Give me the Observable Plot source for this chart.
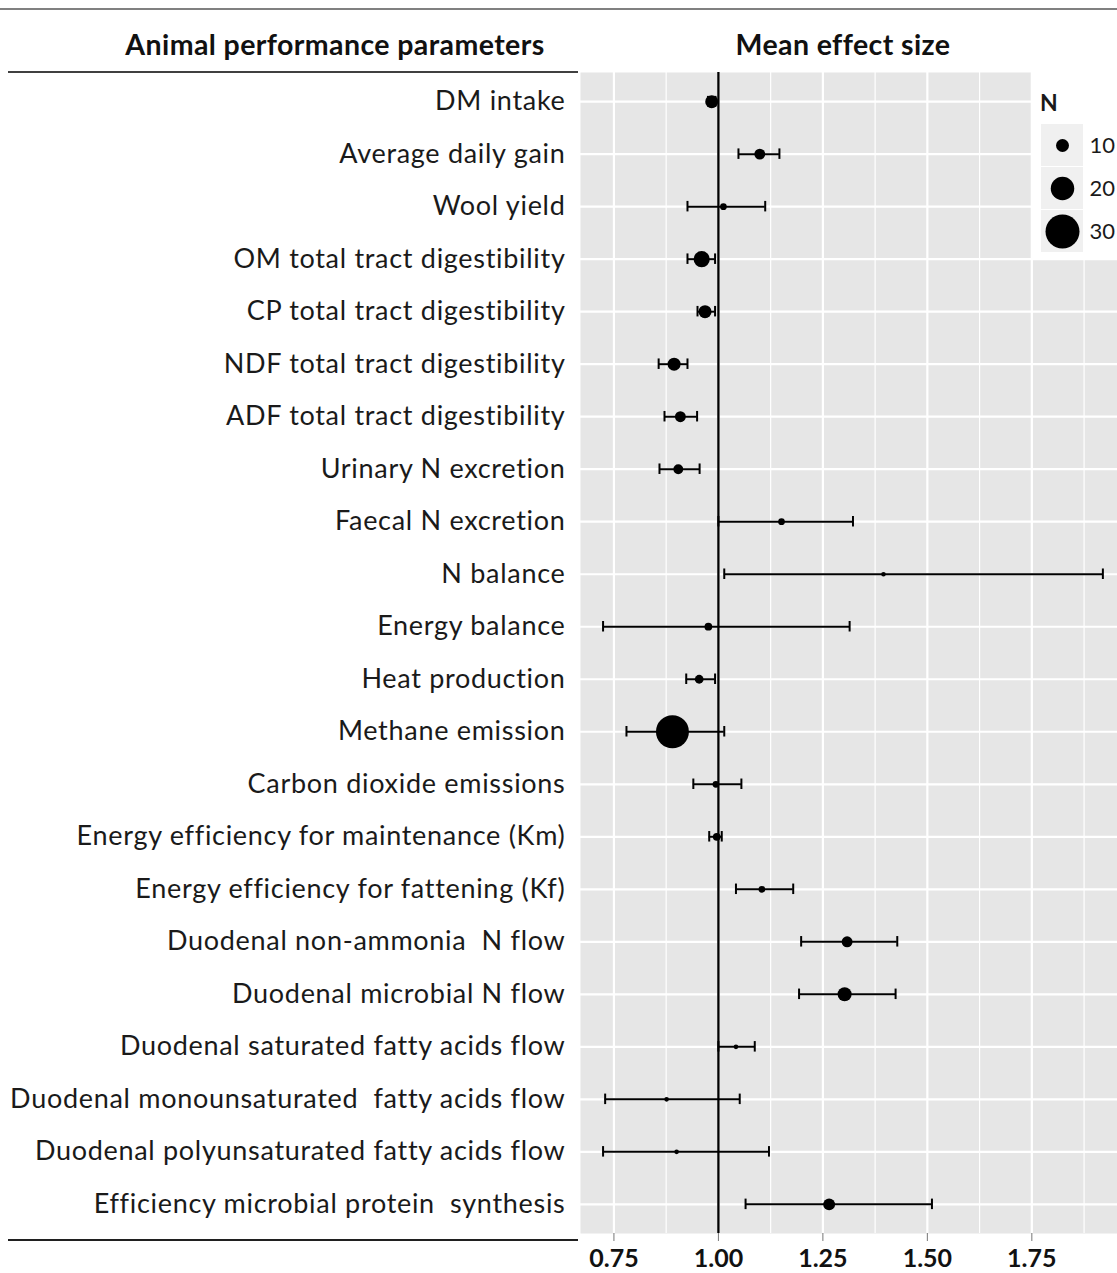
<!DOCTYPE html>
<html>
<head>
<meta charset="utf-8">
<script src="https://cdn.jsdelivr.net/npm/d3@7"></script>
<script src="https://cdn.jsdelivr.net/npm/@observablehq/plot@0.6"></script>
<style>
  html, body { margin: 0; padding: 0; background: #fff; }
  #page { position: relative; width: 1117px; height: 1273px; overflow: hidden; font-family: Lato, "Open Sans", sans-serif; color: #111; }
  .hline { position: absolute; }
  .hdr { position: absolute; top: 25px; font-weight: bold; font-size: 28.5px; letter-spacing: 0.4px; text-align: center; line-height: 38px; color: #111; }
  #chart { position: absolute; left: 0; top: 70px; }
  #chart svg text { white-space: pre; }
  #chart svg g[aria-label="y-axis tick label"] text { letter-spacing: 0.7px; }
  #legend { position: absolute; left: 1032px; top: 70px; width: 85px; height: 190px; background: #fff; }
  #legendTitle { position: absolute; left: 8px; top: 18px; font-weight: bold; font-size: 23px; line-height: 28px; color: #1a1a1a; }
  #legendPlot { position: absolute; left: 9px; top: 53px; }
</style>
</head>
<body>
<div id="page">
  <div class="hline" style="left:0; top:8px; width:1117px; height:2px; background:#808080;"></div>
  <div class="hdr" style="left:0; width:670px;">Animal performance parameters</div>
  <div class="hdr" style="left:580px; width:526px;">Mean effect size</div>
  <div id="chart"></div>
  <div class="hline" style="left:8px; top:71px; width:570px; height:2px; background:#404040;"></div>
  <div class="hline" style="left:8px; top:1239px; width:570px; height:2px; background:#202020;"></div>
  <div id="legend">
    <div id="legendTitle">N</div>
    <div id="legendPlot"></div>
  </div>
</div>
<script>
// ---- Data ----
const parameters = [
  "DM intake",
  "Average daily gain",
  "Wool yield",
  "OM total tract digestibility",
  "CP total tract digestibility",
  "NDF total tract digestibility",
  "ADF total tract digestibility",
  "Urinary N excretion",
  "Faecal N excretion",
  "N balance",
  "Energy balance",
  "Heat production",
  "Methane emission",
  "Carbon dioxide emissions",
  "Energy efficiency for maintenance (Km)",
  "Energy efficiency for fattening (Kf)",
  "Duodenal non-ammonia  N flow",
  "Duodenal microbial N flow",
  "Duodenal saturated fatty acids flow",
  "Duodenal monounsaturated  fatty acids flow",
  "Duodenal polyunsaturated fatty acids flow",
  "Efficiency microbial protein  synthesis"
];
const meanEffect = [0.984, 1.099, 1.012, 0.960, 0.968, 0.894, 0.909, 0.904, 1.151, 1.395, 0.976,
                    0.954, 0.890, 0.994, 0.996, 1.104, 1.308, 1.302, 1.042, 0.876, 0.900, 1.265];
const ciLower    = [0.975, 1.048, 0.926, 0.926, 0.950, 0.857, 0.871, 0.859, 1.000, 1.014, 0.724,
                    0.923, 0.780, 0.940, 0.978, 1.042, 1.198, 1.193, 1.000, 0.729, 0.724, 1.065];
const ciUpper    = [0.993, 1.146, 1.112, 0.992, 0.992, 0.926, 0.949, 0.955, 1.322, 1.920, 1.314,
                    0.992, 1.014, 1.055, 1.008, 1.179, 1.428, 1.424, 1.087, 1.051, 1.121, 1.511];
const nStudies   = [10, 8, 4, 13, 10, 10, 8, 7, 4, 2, 5,
                    6, 29, 4, 5, 4, 8, 11, 2, 2, 2, 9];
const xMajorTicks = [0.75, 1.00, 1.25, 1.50, 1.75];
const xMinorTicks = [0.875, 1.125, 1.375, 1.625, 1.875];
const legendN = [10, 20, 30];

const rows = parameters.map((label, i) => ({
  label, mean: meanEffect[i], lo: ciLower[i], hi: ciUpper[i], n: nStudies[i]
}));

const rScale = {type: "linear", domain: [0, 30], range: [1.25, 17]};

const chart = Plot.plot({
  width: 1117,
  height: 1203,
  marginLeft: 580,
  marginRight: 0,
  marginTop: 2,
  marginBottom: 40,
  style: {fontFamily: "Lato, 'Open Sans', sans-serif", background: "transparent", overflow: "visible"},
  x: {domain: [0.670, 1.955]},
  y: {type: "band", domain: parameters, paddingInner: 0, paddingOuter: 0.055, round: false},
  r: rScale,
  marks: [
    Plot.frame({fill: "#e6e6e6", stroke: "none"}),
    Plot.ruleX(xMinorTicks, {stroke: "white", strokeWidth: 1.2}),
    Plot.ruleX(xMajorTicks, {stroke: "white", strokeWidth: 2.2}),
    Plot.ruleY(parameters, {y: d => d, stroke: "white", strokeWidth: 2.2}),
    Plot.ruleX([1], {stroke: "black", strokeWidth: 2.3}),
    Plot.ruleY(rows, {y: "label", x1: "lo", x2: "hi", stroke: "black", strokeWidth: 2}),
    Plot.tickX(rows, {x: "lo", y: "label", insetTop: 21, insetBottom: 21, stroke: "black", strokeWidth: 2}),
    Plot.tickX(rows, {x: "hi", y: "label", insetTop: 21, insetBottom: 21, stroke: "black", strokeWidth: 2}),
    Plot.dot(rows, {x: "mean", y: "label", r: "n", fill: "black", stroke: "none"}),
    Plot.axisX({ticks: xMajorTicks, tickFormat: d3.format(".2f"), tickSize: 8, tickPadding: 8,
                fontSize: 25, fontWeight: "bold", stroke: "#777", fill: "#111", label: null}),
    Plot.axisY({tickSize: 0, tickPadding: 15, fontSize: 27, fill: "#1a1a1a", label: null})
  ]
});
document.getElementById("chart").appendChild(chart);

const legendPlot = Plot.plot({
  width: 76,
  height: 130,
  marginLeft: 0,
  marginRight: 34,
  marginTop: 0,
  marginBottom: 0,
  style: {fontFamily: "Lato, 'Open Sans', sans-serif", background: "transparent", overflow: "visible"},
  x: {type: "band", domain: ["key"], padding: 0, axis: null},
  y: {type: "band", domain: legendN, paddingInner: 0.03, paddingOuter: 0, axis: null},
  r: rScale,
  marks: [
    Plot.cell(legendN, {x: () => "key", y: d => d, fill: "#f0f0f0"}),
    Plot.dot(legendN, {x: () => "key", y: d => d, r: d => d, fill: "black", stroke: "none"}),
    Plot.text(legendN, {x: () => "key", y: d => d, text: d => String(d), dx: 27, textAnchor: "start",
                        fontSize: 22, fill: "#1a1a1a"})
  ]
});
document.getElementById("legendPlot").appendChild(legendPlot);
</script>
</body>
</html>
